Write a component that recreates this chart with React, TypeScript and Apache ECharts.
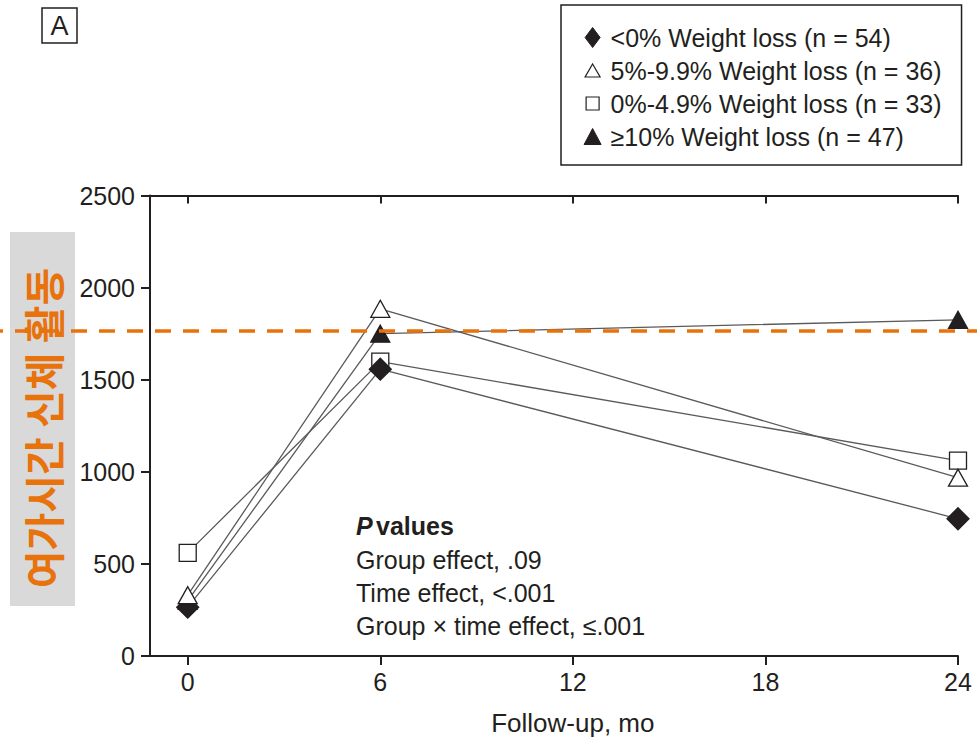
import React, { useEffect, useRef } from "react";
import * as echarts from "echarts";

// ---- data ----
const months = [0, 6, 24];
const xTickValues = [0, 6, 12, 18, 24];
const legendNames = [
  "<0% Weight loss (n = 54)",
  "5%-9.9% Weight loss (n = 36)",
  "0%-4.9% Weight loss (n = 33)",
  "≥10% Weight loss (n = 47)",
];
const lossBelow0 = [265, 1557, 745];
const loss5to9 = [330, 1885, 968];
const loss0to4 = [560, 1598, 1061];
const loss10plus = [300, 1750, 1825];
const referenceLevel = 1765;
const pValueLines = [
  "Group effect, .09",
  "Time effect, <.001",
  "Group × time effect, ≤.001",
];
const yAxisTitle = "여가시간 신체 활동";
const xAxisTitle = "Follow-up, mo";
const panelLabel = "A";

const INK = "#231f20";
const ORANGE = "#E8720C";
const FONT = "'Liberation Sans', Arial, Helvetica, sans-serif";

const toPoints = (vals: number[]) => months.map((m, i) => [m, vals[i]]);

export default function App() {
  const ref = useRef<HTMLDivElement>(null);

  useEffect(() => {
    if (!ref.current) return;
    const chart = echarts.init(ref.current, null, { renderer: "svg" });

    const lineStyle = { color: "#5a5a5a", width: 1.3 };
    const mk = (name: string, vals: number[], symbol: string, size: any, fill: string) => ({
      name,
      type: "line",
      data: toPoints(vals),
      symbol,
      symbolSize: size,
      showAllSymbol: true,
      lineStyle,
      itemStyle: { color: fill, borderColor: INK, borderWidth: 1.3 },
      emphasis: { disabled: true },
      xAxisIndex: 0,
      yAxisIndex: 0,
    });

    const box = "M0,0M26,20";
    chart.setOption({
      animation: false,
      backgroundColor: "#ffffff",
      textStyle: { fontFamily: FONT },
      grid: { left: 150, right: 19, top: 195.5, bottom: 88 },
      xAxis: [
        {
          type: "value",
          position: "bottom",
          min: -1.175,
          max: 24,
          axisLine: { show: true, onZero: false, lineStyle: { color: INK, width: 2 } },
          axisTick: { show: true, customValues: xTickValues, length: 9, lineStyle: { color: INK, width: 2 } },
          axisLabel: { customValues: xTickValues, fontSize: 25, color: INK, margin: 13, fontFamily: FONT },
          splitLine: { show: false },
        },
        {
          type: "value",
          position: "top",
          min: -1.175,
          max: 24,
          axisLine: { show: true, onZero: false, lineStyle: { color: INK, width: 2 } },
          axisTick: { show: true, inside: true, customValues: xTickValues, length: 8, lineStyle: { color: INK, width: 2 } },
          axisLabel: { show: false },
          splitLine: { show: false },
        },
      ],
      yAxis: {
        type: "value",
        min: 0,
        max: 2500,
        interval: 500,
        axisLine: { show: true, onZero: false, lineStyle: { color: INK, width: 2 } },
        axisTick: { show: true, length: 9, lineStyle: { color: INK, width: 2 } },
        axisLabel: { fontSize: 25, color: INK, margin: 15, fontFamily: FONT, formatter: (v: number) => String(v) },
        splitLine: { show: false },
      },
      legend: {
        orient: "vertical",
        left: 561,
        top: 5,
        padding: [20, 20, 16, 18],
        itemGap: 8,
        itemWidth: 26,
        itemHeight: 20,
        selectedMode: false,
        borderColor: INK,
        borderWidth: 1.5,
        textStyle: { fontSize: 25, color: INK, fontFamily: FONT },
        data: [
          {
            name: legendNames[0],
            icon: `path://${box}M13,0L20.5,10L13,20L5.5,10Z`,
            itemStyle: { color: INK, borderColor: INK, borderWidth: 1 },
          },
          {
            name: legendNames[1],
            icon: `path://${box}M13,3.5L20.5,16.5L5.5,16.5Z`,
            itemStyle: { color: "#fff", borderColor: INK, borderWidth: 1.2 },
          },
          {
            name: legendNames[2],
            icon: `path://${box}M6.5,3.5L19.5,3.5L19.5,16.5L6.5,16.5Z`,
            itemStyle: { color: "#fff", borderColor: INK, borderWidth: 1.2 },
          },
          {
            name: legendNames[3],
            icon: `path://${box}M13,2L21.5,18L4.5,18Z`,
            itemStyle: { color: INK, borderColor: INK, borderWidth: 1 },
          },
        ],
      },
      series: [
        mk(legendNames[3], loss10plus, "triangle", [19, 17], INK),
        mk(legendNames[2], loss0to4, "rect", 17, "#fff"),
        mk(legendNames[0], lossBelow0, "diamond", [22, 22], INK),
        mk(legendNames[1], loss5to9, "triangle", [19, 17], "#fff"),
      ],
    });

    const refY = chart.convertToPixel({ yAxisIndex: 0 }, referenceLevel) as number;
    const x12 = chart.convertToPixel({ xAxisIndex: 0 }, 12) as number;

    const pTexts = pValueLines.map((t, i) => ({
      type: "text",
      left: 356,
      top: 547 + i * 33,
      style: { text: t, fontSize: 25, fill: INK, fontFamily: FONT },
    }));

    chart.setOption({
      graphic: [
        { type: "rect", shape: { x: 10, y: 232, width: 65, height: 374 }, style: { fill: "#D9D9D9" }, z: 0 },
        {
          type: "text",
          x: 41.5,
          y: 428,
          rotation: Math.PI / 2,
          style: {
            text: yAxisTitle,
            fontSize: 41,
            fontWeight: "bold",
            fill: ORANGE,
            fontFamily: "'Noto Sans CJK KR', sans-serif",
            align: "center",
            verticalAlign: "middle",
          },
          z: 1,
        },
        {
          type: "line",
          shape: { x1: 0, y1: refY, x2: 977, y2: refY },
          style: { stroke: ORANGE, lineWidth: 3.5, lineDash: [16, 12], lineDashOffset: 12.7 },
          z: 10,
        },
        { type: "rect", shape: { x: 42, y: 8, width: 35, height: 35 }, style: { fill: "none", stroke: INK, lineWidth: 1.5 }, z: 1 },
        {
          type: "text",
          x: 59.5,
          y: 26,
          style: { text: panelLabel, fontSize: 27, fill: INK, fontFamily: FONT, align: "center", verticalAlign: "middle" },
          z: 1,
        },
        {
          type: "text",
          left: 356,
          top: 513,
          style: {
            text: "{p|P} {v|values}",
            fontFamily: FONT,
            rich: {
              p: { fontSize: 25, fontWeight: "bold", fontStyle: "italic", fill: INK, fontFamily: FONT },
              v: { fontSize: 25, fontWeight: "bold", fill: INK, fontFamily: FONT },
            },
          },
          z: 1,
        },
        ...pTexts,
        {
          type: "text",
          x: x12,
          y: 723,
          style: { text: xAxisTitle, fontSize: 26, fill: INK, fontFamily: FONT, align: "center", verticalAlign: "middle" },
          z: 1,
        },
      ],
    });

    return () => chart.dispose();
  }, []);

  return <div ref={ref} style={{ position: "fixed", left: 0, top: 0, width: 977, height: 744 }} />;
}
